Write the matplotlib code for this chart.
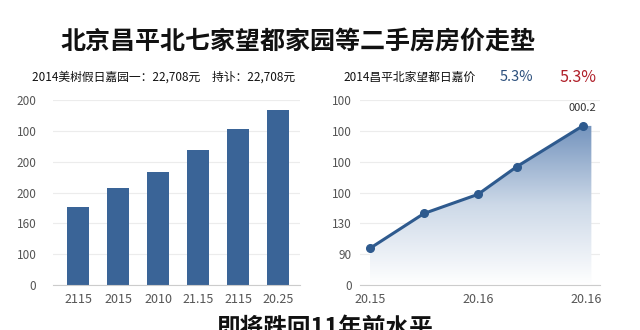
import numpy as np
import matplotlib.pyplot as plt
from matplotlib.colors import LinearSegmentedColormap

plt.rcParams['font.family'] = ['Noto Sans CJK SC', 'DejaVu Sans']

# ---- data ----
bar_labels = ["2115", "2015", "2010", "21.15", "2115", "20.25"]
bar_values = [2.52, 3.13, 3.65, 4.39, 5.06, 5.68]
bar_yticklabels = ["0", "100", "160", "200", "200", "100", "200"]

line_x = [0, 1, 2, 2.72, 3.94]
line_y = [1.19, 2.32, 2.94, 3.84, 5.16]
fill_end = 4.1
line_xticks = [0, 2, 4]
line_xticklabels = ["20.15", "20.16", "20.16"]
line_yticklabels = ["0", "90", "130", "100", "100", "100", "100"]
last_label = "000.2"

BLUE = "#3a6497"
LINE = "#2e5a8e"
TICK = "#555555"
GRID = "#ececec"

fig = plt.figure(figsize=(6.4, 3.3), dpi=100)
fig.patch.set_facecolor("white")


def style(ax):
    for s in ["top", "right", "left"]:
        ax.spines[s].set_visible(False)
    ax.spines["bottom"].set_color("#cccccc")
    ax.tick_params(length=0, labelsize=8.5, colors=TICK, pad=6)
    ax.set_yticks(range(7))
    ax.set_ylim(0, 6)
    ax.grid(axis="y", color=GRID, lw=0.8)
    ax.set_axisbelow(True)


# left: bars
ax1 = fig.add_axes([53 / 640, 1 - 285 / 330, 247 / 640, 185 / 330])
xs = np.arange(len(bar_values))
ax1.bar(xs, bar_values, width=0.55, color=BLUE)
ax1.set_xlim(-0.625, 5.55)
style(ax1)
ax1.set_xticks(xs)
ax1.set_xticklabels(bar_labels)
ax1.set_yticklabels(bar_yticklabels)
ax1.tick_params(axis="x", labelsize=9)
ax1.tick_params(axis="y", pad=12)

# right: area line
ax2 = fig.add_axes([360 / 640, 1 - 285 / 330, 240 / 640, 185 / 330])
style(ax2)
ax2.set_xlim(-0.185, 4.26)
ax2.set_xticks(line_xticks)
ax2.set_xticklabels(line_xticklabels)
ax2.set_yticklabels(line_yticklabels)
ax2.tick_params(axis="x", labelsize=9)
ax2.tick_params(axis="y", pad=6)

fx = line_x + [fill_end]
fy = line_y + [line_y[-1]]
poly = ax2.fill_between(fx, fy, 0, color="none", lw=0)
cmap = LinearSegmentedColormap.from_list("g", ["#ffffff", "#cdd9e8", "#7393bd"])
grad = np.linspace(0, 1, 256).reshape(-1, 1)
im = ax2.imshow(grad, cmap=cmap, aspect="auto", origin="lower",
                extent=[0, fill_end, 0, max(line_y)], zorder=1)
im.set_clip_path(poly.get_paths()[0], transform=ax2.transData)
ax2.set_xlim(-0.185, 4.26)
ax2.set_ylim(0, 6)
ax2.plot(line_x, line_y, color=LINE, lw=2.2, marker="o", ms=5.5, zorder=3)
ax2.annotate(last_label, (line_x[-1], line_y[-1]), xytext=(0, 9),
             textcoords="offset points", ha="center", va="bottom",
             fontsize=8, color="#333333")

# texts
fig.text(298 / 640, 1 - 42 / 330, "北京昌平北七家望都家园等二手房房价走垫",
         ha="center", va="center", fontsize=18, fontweight="bold", color="#111111")
fig.text(32 / 640, 1 - 77 / 330, "2014美树假日嘉园一：22,708元　持讣：22,708元",
         ha="left", va="center", fontsize=8.5, fontweight="medium", color="#111111")
fig.text(343 / 640, 1 - 77 / 330, "2014昌平北家望都日嘉价",
         ha="left", va="center", fontsize=8.5, fontweight="medium", color="#111111")
fig.text(516 / 640, 1 - 77 / 330, "5.3%", ha="center", va="center",
         fontsize=10.5, fontweight="medium", color="#2b4f7c")
fig.text(578 / 640, 1 - 77 / 330, "5.3%", ha="center", va="center",
         fontsize=11.5, fontweight="medium", color="#b0202a")
fig.text(325 / 640, 1 - 328 / 330, "即将跌回11年前水平", ha="center", va="center",
         fontsize=17, fontweight="bold", color="#111111")

fig.savefig("out.png", dpi=100)
